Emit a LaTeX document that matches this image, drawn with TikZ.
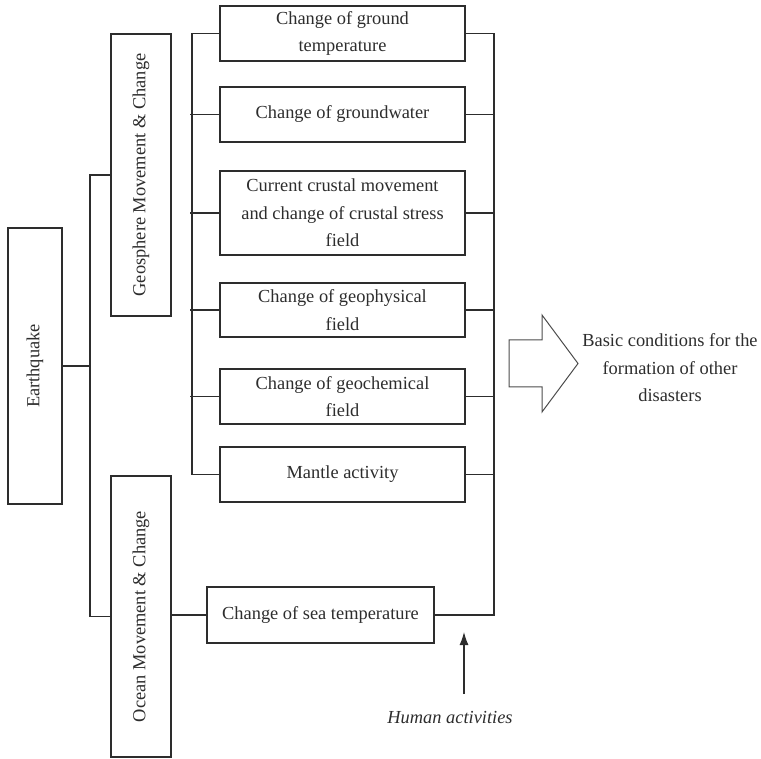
\documentclass[tikz,border=0pt]{standalone}
\usepackage{fontspec}
\setmainfont{Liberation Serif}
\usetikzlibrary{arrows.meta}
\definecolor{ink}{RGB}{45,45,45}
\begin{document}
\begin{tikzpicture}[x=1pt,y=-1pt,
  every node/.style={font=\fontsize{18.4}{27.5}\selectfont, text=ink},
  box/.style={draw=ink, line width=1.2pt, inner sep=0pt, align=center},
  link/.style={draw=ink, line width=1.2pt},
  item/.style={box, minimum width=245pt, minimum height=55pt},
]
\useasboundingbox (0,0) rectangle (761,759);

% root and the two branches (vertical labels)
\node[box, minimum width=54pt, minimum height=276pt] (eq) at (35,366) {\rotatebox{90}{Earthquake}};
\node[box, minimum width=60pt, minimum height=282pt] (geo) at (141,175) {\rotatebox{90}{Geosphere Movement \& Change}};
\node[box, minimum width=60pt, minimum height=281pt] (ocean) at (141,616.5) {\rotatebox{90}{Ocean Movement \& Change}};

% geosphere items
\node[item] (b1) at (342.5,33.5) {Change of ground\\temperature};
\node[item] (b2) at (342.5,114.5) {Change of groundwater};
\node[item, minimum height=84pt] (b3) at (342.5,213) {Current crustal movement\\and change of crustal stress\\field};
\node[item, minimum height=54pt] (b4) at (342.5,310) {Change of geophysical\\field};
\node[item] (b5) at (342.5,396.5) {Change of geochemical\\field};
\node[item] (b6) at (342.5,474.5) {Mantle activity};

% ocean item
\node[box, minimum width=227pt, minimum height=56pt] (sea) at (320.5,615) {Change of sea temperature};

% bus lines
\coordinate (rootbus) at (90,366);
\coordinate (lbus) at (192,250);
\coordinate (rbus) at (494,250);

\draw[link] (eq.east) -- (rootbus);
\draw[link] (geo.west) -| (rootbus) |- (ocean.west);
\draw[link] (sea.west -| ocean.east) -- (sea.west);

\draw[link] (b1.west) -| (lbus) |- (b6.west);
\foreach \n in {b2,b3,b4,b5}
  \draw[link] ([xshift=-2pt]\n.west -| lbus) -- (\n.west);

\draw[link] (b1.east) -| (rbus) |- (sea.east);
\foreach \n in {b2,b3,b4,b5,b6}
  \draw[link] (\n.east) -- (\n.east -| rbus);

% outcome
\draw[ink!85, line width=1pt] (509,340) -- (542,340) -- (542,315) -- (578,363.5)
  -- (542,412) -- (542,387) -- (509,387) -- cycle;
\node[align=center] (basic) at (670,368) {Basic conditions for the\\formation of other\\disasters};

% human influence
\node (human) at (450,718) {\itshape Human activities};
\coordinate (hbase) at (464,694);
\coordinate (htip) at (464,632);
\draw[link, -{Latex[length=13pt,width=9pt]}] (hbase) -- (htip);
\end{tikzpicture}
\end{document}
